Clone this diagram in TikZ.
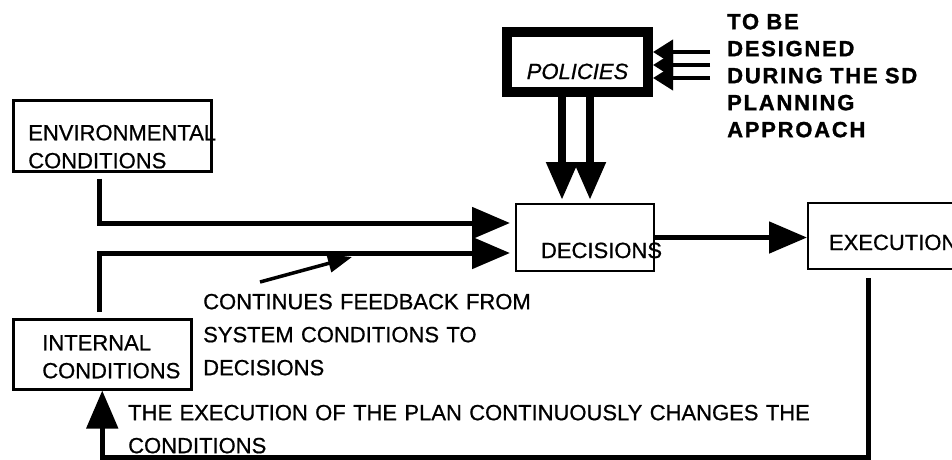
\documentclass[tikz,border=0pt]{standalone}
\usepackage{fontspec}
\setmainfont{Liberation Sans}[FakeBold=0.7]
\newfontfamily\sdfont[LetterSpace=8,WordSpace=2,FakeBold=1.2]{Liberation Sans}
\usetikzlibrary{arrows.meta}
\hyphenpenalty=10000
\tikzset{flow/.style ={
        draw,
        line width=5pt,
        -{Triangle[length=38pt,width=31pt]},
    },
    feed/.style ={
        draw,
        line width=4pt,
        -{Triangle[length=20pt,width=24pt]},
    },
    pointer/.style ={
        draw,
        line width=3.5pt,
        -{Triangle[length=24pt,width=18pt]},
    },
    note/.style ={
        anchor=north west,
        inner sep=0pt,
        text height=16pt,
        align=left,
        font=\fontsize{22}{33}\selectfont,
    }}

\begin{document}
\begin{tikzpicture}
    [
    x=1pt, y=-1pt,
    box/.style ={
        rectangle,
        draw,
        line width=2.5pt,
        inner ysep=0pt,
        align=left,
        anchor=north west,
        font=\fontsize{22}{28}\selectfont,
    }
    ]
    \useasboundingbox (0,0) rectangle (952,459);
    \clip (0,0) rectangle (952,459);

    \node (env)[box, inner xsep=15pt, text width=168pt, text height=40pt, text depth=31pt] at (12,99) {ENVIRONMENTAL\\CONDITIONS};
    \node (int)[box, inner xsep=29pt, text width=120pt, text height=31pt, text depth=39pt] at (12,318) {INTERNAL\\CONDITIONS};
    \node (dec)[box, line width=2pt, inner xsep=25pt, text width=88pt, text height=54pt, text depth=13pt] at (515,203) {DECISIONS};
    \node (exe)[box, line width=2pt, inner xsep=21pt, text width=111pt, text height=47pt, text depth=19pt] at (807,202) {EXECUTION};
    \node (pol)[box, line width=10pt, inner xsep=0pt, align=center, text width=141pt, text height=47pt, text depth=13pt, font=\fontsize{22}{28}\selectfont\itshape] at (502,27) {POLICIES};

    \node (sd)[note, inner xsep=17pt, text width=240pt, font=\fontsize{22}{27}\selectfont\sdfont\bfseries] at (710,13) {TO BE\\DESIGNED\\DURING THE SD\\PLANNING\\APPROACH};
    \node (fbnote)[note, text width=340pt] at (203,293) {CONTINUES FEEDBACK FROM\\SYSTEM CONDITIONS TO\\DECISIONS};
    \node (exnote)[note, text width=700pt] at (128,404) {THE EXECUTION OF THE PLAN CONTINUOUSLY CHANGES THE\\CONDITIONS};

    % conditions into decisions
    \coordinate (envin) at ([yshift=14.5pt]dec.west);
    \coordinate (intin) at ([yshift=-15.5pt]dec.west);
    \draw[flow, shorten <=6pt, shorten >=5pt] ([xshift=-12.5pt]env.south) |- (envin);
    \draw[flow, shorten <=6pt, shorten >=5pt] ([xshift=-2.5pt]int.north) |- (intin);

    % policies
    \foreach \dx in {-15.5,12.5} {
        \coordinate (pl) at ([xshift=\dx pt]pol.south);
        \draw[flow, line width=8pt, -{Triangle[length=38pt,width=30pt]}, shorten >=3pt] (pl) -- (pl |- dec.north);
    }
    \foreach \dy in {10,-3,-16} {
        \coordinate (pr) at ([yshift=\dy pt]pol.east);
        \draw[feed] (pr -| sd.west) -- (pr);
    }

    \draw[flow] (dec.east) -- (dec.east -| exe.west);
    \draw[flow, shorten <=8pt] ([xshift=-16.5pt]exe.south) |- ([yshift=-67pt]int.south) -- (int.south);

    \coordinate (fbhead) at (352,257);
    \draw[pointer] ([xshift=57pt,yshift=11pt]fbnote.north west) -- (fbhead);

\end{tikzpicture}
\end{document}
